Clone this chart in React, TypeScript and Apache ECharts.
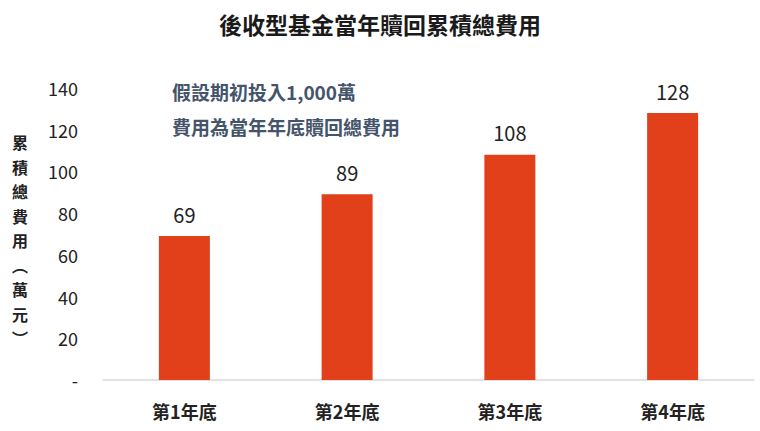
import React, { useEffect, useRef } from "react";
import * as echarts from "echarts";

const categories = ["第1年底", "第2年底", "第3年底", "第4年底"];
const values = [69, 89, 108, 128];
const titleText = "後收型基金當年贖回累積總費用";
const noteLines = ["假設期初投入1,000萬", "費用為當年年底贖回總費用"];
const yNameChars = ["累", "積", "總", "費", "用", "︵", "萬", "元", "︶"];

const FONT = "'Noto Sans CJK TC', 'Noto Sans', sans-serif";

export default function App() {
  const ref = useRef<HTMLDivElement>(null);
  useEffect(() => {
    if (!ref.current) return;
    const chart = echarts.init(ref.current, null, { renderer: "svg" });
    chart.setOption({
      animation: false,
      backgroundColor: "#ffffff",
      textStyle: { fontFamily: FONT },
      title: {
        text: titleText,
        left: "center",
        top: 7,
        textStyle: { fontSize: 23, fontWeight: "bold", color: "#1a1a1a", fontFamily: FONT },
      },
      grid: { left: 103, right: 6, top: 88, bottom: 51, containLabel: false },
      xAxis: {
        type: "category",
        data: categories,
        axisLine: { show: true, lineStyle: { color: "#d9d9d9", width: 1.5 } },
        axisTick: { show: false },
        axisLabel: { fontSize: 18, fontWeight: "bold", color: "#222", margin: 22, fontFamily: FONT },
      },
      yAxis: {
        type: "value",
        min: 0,
        max: 140,
        interval: 20,
        axisLine: { show: false },
        axisTick: { show: false },
        splitLine: { show: false },
        axisLabel: {
          fontSize: 18,
          color: "#222",
          margin: 25,
          fontFamily: FONT,
          formatter: (v: number) => (v === 0 ? "-" : String(v)),
        },
      },
      graphic: [
        {
          type: "text",
          left: 12,
          top: 130,
          style: {
            text: yNameChars.join("\n"),
            font: `bold 16px ${FONT}`,
            fill: "#222",
            lineHeight: 24.5,
            align: "center",
          },
        },
        {
          type: "text",
          left: 172,
          top: 74,
          style: {
            text: noteLines.join("\n"),
            font: `bold 19px ${FONT}`,
            fill: "#44546a",
            lineHeight: 35,
          },
        },
      ],
      series: [
        {
          type: "bar",
          data: values,
          barWidth: 51,
          itemStyle: { color: "#e1401b" },
          label: {
            show: true,
            position: "top",
            distance: 12,
            fontSize: 20,
            color: "#222",
            fontFamily: FONT,
          },
        },
      ],
    });
    return () => chart.dispose();
  }, []);
  return (
    <div
      ref={ref}
      style={{ position: "fixed", left: 0, top: 0, width: 760, height: 431 }}
    />
  );
}
